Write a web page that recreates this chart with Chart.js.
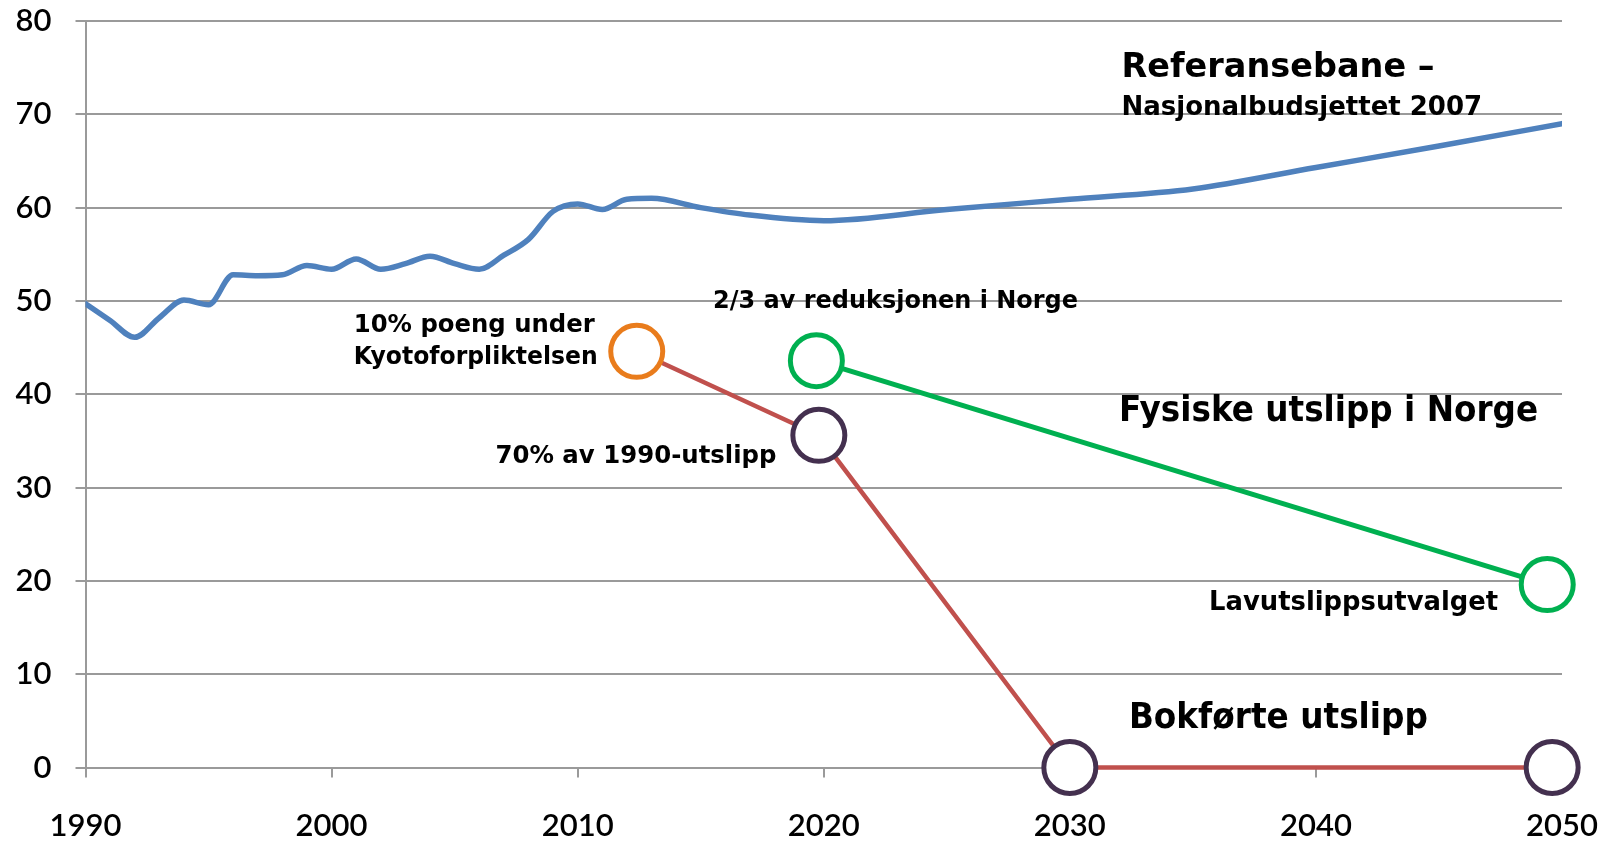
<!DOCTYPE html>
<html>
<head>
<meta charset="utf-8">
<script src="https://cdn.jsdelivr.net/npm/chart.js@4"></script>
<style>
  html, body { margin: 0; padding: 0; background: #fff; }
  #wrap { width: 1616px; height: 843px; }
</style>
</head>
<body>
<div id="wrap"><canvas id="chart"></canvas></div>
<script>
// Referansebane - Nasjonalbudsjettet 2007
const refYears = [1990, 1991, 1992, 1993, 1994, 1995, 1996, 1997, 1998, 1999, 2000, 2001, 2002, 2003,
    2004, 2005, 2006, 2007, 2008, 2009, 2010, 2011, 2012, 2013, 2015, 2017, 2020, 2025, 2030, 2035,
    2040, 2045, 2050];
const refValues = [49.7, 47.9, 46.1, 48.2, 50.1, 49.6, 52.8, 52.7, 52.8, 53.8, 53.4, 54.5, 53.4, 54.0,
    54.8, 54.0, 53.4, 54.9, 56.6, 59.6, 60.4, 59.8, 60.9, 61.0, 60.0, 59.2, 58.6, 59.8, 60.9, 62.0,
    64.3, 66.6, 69.0];

// Bokførte utslipp
const bookYears = [2012.4, 2019.8, 2030, 2049.6];
const bookValues = [44.6, 35.6, 0, 0];

// Fysiske utslipp i Norge
const physYears = [2019.7, 2049.4];
const physValues = [43.6, 19.6];

// Axis ticks
const xTicks = [1990, 2000, 2010, 2020, 2030, 2040, 2050];
const yTicks = [0, 10, 20, 30, 40, 50, 60, 70, 80];

const toPoints = (xs, ys) => xs.map((x, i) => ({ x: x, y: ys[i] }));

// Text annotations (anchored at left / middle, in data units)
const notes = [
    { text: 'Referansebane –', x: 2032.1, y: 74.9, size: 33.5, width: 313 },
    { text: 'Nasjonalbudsjettet 2007', x: 2032.1, y: 70.6, size: 26, width: 366 },
    { text: '2/3 av reduksjonen i Norge', x: 2015.5, y: 49.9, size: 25.5, width: 365 },
    { text: '10% poeng under', x: 2000.9, y: 47.4, size: 25.5, width: 241 },
    { text: 'Kyotoforpliktelsen', x: 2000.9, y: 44.0, size: 25.5, width: 244 },
    { text: '70% av 1990-utslipp', x: 2006.66, y: 33.3, size: 25.5, width: 281 },
    { text: 'Fysiske utslipp i Norge', x: 2032.0, y: 38.1, size: 35.4, width: 419 },
    { text: 'Lavutslippsutvalget', x: 2035.66, y: 17.6, size: 26.5, width: 289 },
    { text: 'Bokførte utslipp', x: 2032.4, y: 5.2, size: 35.4, width: 299 }
];

const notePlugin = {
    id: 'notes',
    afterDatasetsDraw(chart) {
        const { ctx, scales: { x, y } } = chart;
        ctx.save();
        ctx.fillStyle = '#000';
        ctx.textAlign = 'left';
        ctx.textBaseline = 'middle';
        notes.forEach(n => {
            ctx.font = `bold ${n.size}px "DejaVu Sans"`;
            ctx.fillText(n.text, x.getPixelForValue(n.x), y.getPixelForValue(n.y), n.width);
        });
        ctx.restore();
    }
};

const gridColor = '#9a9a9a';
const tickFont = { family: 'Lato, "Liberation Sans", sans-serif', size: 31, weight: '600' };

const ctx = document.getElementById('chart').getContext('2d');
new Chart(ctx, {
    type: 'line',
    data: {
        datasets: [
            {
                label: 'Bokførte utslipp',
                data: toPoints(bookYears, bookValues),
                borderColor: '#c0504d',
                borderWidth: 4.5,
                tension: 0,
                pointRadius: 26,
                pointBorderWidth: 5,
                pointBackgroundColor: '#ffffff',
                pointBorderColor: ['#e97c1c', '#44304f', '#44304f', '#44304f'],
                clip: false
            },
            {
                label: 'Fysiske utslipp i Norge',
                data: toPoints(physYears, physValues),
                borderColor: '#00b050',
                borderWidth: 5,
                tension: 0,
                pointRadius: 26,
                pointBorderWidth: 5,
                pointBackgroundColor: '#ffffff',
                pointBorderColor: '#00b050',
                clip: false
            },
            {
                label: 'Referansebane',
                data: toPoints(refYears, refValues),
                borderColor: '#4f81bd',
                borderWidth: 5.5,
                tension: 0.4,
                cubicInterpolationMode: 'monotone',
                pointRadius: 0,
                borderCapStyle: 'round',
                borderJoinStyle: 'round'
            }
        ]
    },
    options: {
        responsive: true,
        maintainAspectRatio: false,
        animation: false,
        layout: {
            autoPadding: false,
            padding: { top: 21, right: 54, left: 0, bottom: 0 }
        },
        plugins: {
            legend: { display: false },
            tooltip: { enabled: false }
        },
        scales: {
            x: {
                type: 'linear',
                min: 1990,
                max: 2050,
                afterBuildTicks: scale => { scale.ticks = xTicks.map(v => ({ value: v })); },
                afterFit: scale => {
                    scale.height = 75.5;
                    scale.paddingLeft = 0;
                    scale.paddingRight = 0;
                },
                ticks: {
                    color: '#000',
                    font: tickFont,
                    padding: 30,
                    maxRotation: 0,
                    callback: v => String(v)
                },
                grid: {
                    drawOnChartArea: false,
                    color: gridColor,
                    lineWidth: 2,
                    tickLength: 10
                },
                border: { display: true, color: gridColor, width: 2 }
            },
            y: {
                min: 0,
                max: 80,
                afterBuildTicks: scale => { scale.ticks = yTicks.map(v => ({ value: v })); },
                afterFit: scale => {
                    scale.width = 85.5;
                    scale.paddingTop = 0;
                    scale.paddingBottom = 0;
                },
                ticks: {
                    color: '#000',
                    font: tickFont,
                    padding: 24
                },
                grid: {
                    color: gridColor,
                    lineWidth: 2,
                    tickLength: 10
                },
                border: { display: true, color: gridColor, width: 2 }
            }
        }
    },
    plugins: [notePlugin]
});
</script>
</body>
</html>
